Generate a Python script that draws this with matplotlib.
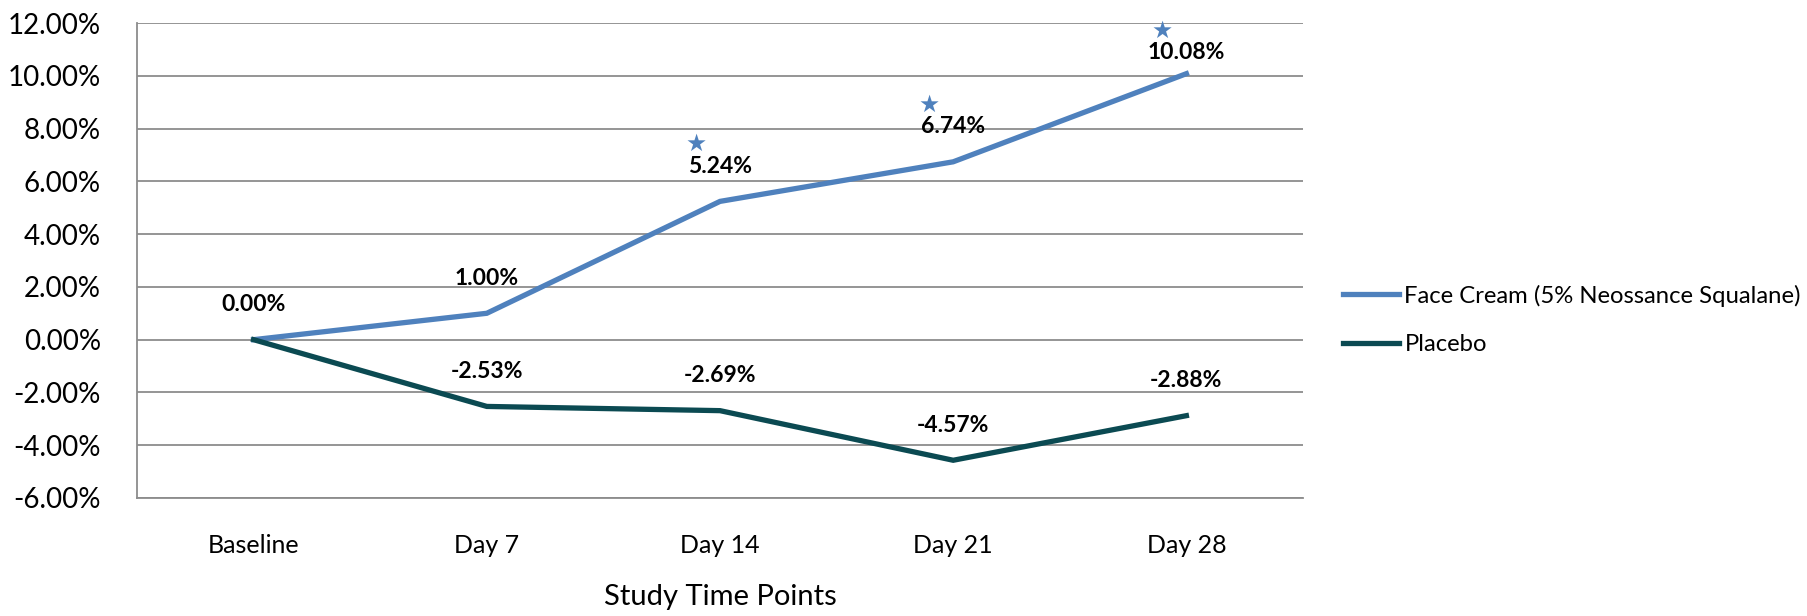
import matplotlib.pyplot as plt

# data
categories = ["Baseline", "Day 7", "Day 14", "Day 21", "Day 28"]
face_cream = [0.00, 1.00, 5.24, 6.74, 10.08]
placebo = [0.00, -2.53, -2.69, -4.57, -2.88]
significant = [False, False, True, True, True]
y_ticks = [-6, -4, -2, 0, 2, 4, 6, 8, 10, 12]

plt.rcParams['font.family'] = ['Lato', 'DejaVu Sans']

fig = plt.figure(figsize=(18.08, 6.16), dpi=100)
ax = fig.add_axes([137 / 1808, 1 - 498 / 616, 1166 / 1808, 475 / 616])

x = list(range(len(categories)))
blue = '#4f81bd'
teal = '#0b4a52'

ax.plot(x, face_cream, color=blue, lw=3.8, label='Face Cream (5% Neossance Squalane)',
        solid_joinstyle='miter', zorder=3)
ax.plot(x, placebo, color=teal, lw=3.8, label='Placebo', solid_joinstyle='miter', zorder=3)

# data labels above each point
for i in x:
    dy = 35 if face_cream[i] < 10 else 21
    ax.annotate(f"{face_cream[i]:.2f}%", (i, face_cream[i]), xytext=(0, dy),
                textcoords='offset pixels', ha='center', va='center',
                fontsize=16.5, fontweight='bold', color='black')
    if i > 0:
        ax.annotate(f"{placebo[i]:.2f}%", (i, placebo[i]), xytext=(0, 35),
                    textcoords='offset pixels', ha='center', va='center',
                    fontsize=16.5, fontweight='bold', color='black')
    if significant[i]:
        ax.annotate("\u2605", (i, face_cream[i]), xytext=(-24, dy + 22),
                    textcoords='offset pixels', ha='center', va='center',
                    fontsize=17, color=blue, family='DejaVu Sans')

ax.set_xlim(-0.5, len(categories) - 0.5)
ax.set_ylim(-6, 12)
ax.set_yticks(y_ticks)
ax.set_yticklabels([f"{v:.2f}%" for v in y_ticks], fontsize=20)
ax.set_xticks(x)
ax.set_xticklabels(categories, fontsize=18)
ax.tick_params(axis='y', length=0, pad=26)
ax.tick_params(axis='x', length=0, pad=26)
ax.grid(axis='y', color='#8c8c8c', lw=1.3)
ax.set_axisbelow(True)
for s in ['top', 'right']:
    ax.spines[s].set_visible(False)
for s in ['left', 'bottom']:
    ax.spines[s].set_color('#8c8c8c')
    ax.spines[s].set_linewidth(1.3)

fig.text(720 / 1808, 1 - 597 / 616, "Study Time Points", ha='center', va='center',
         fontsize=21)

fig.legend(loc='center left', bbox_to_anchor=(1343 / 1808, 1 - 320 / 616), frameon=False,
           fontsize=17.2, handlelength=2.35, handletextpad=0.22, labelspacing=1.15,
           borderpad=0, borderaxespad=0)

fig.savefig('out.png', dpi=100)
